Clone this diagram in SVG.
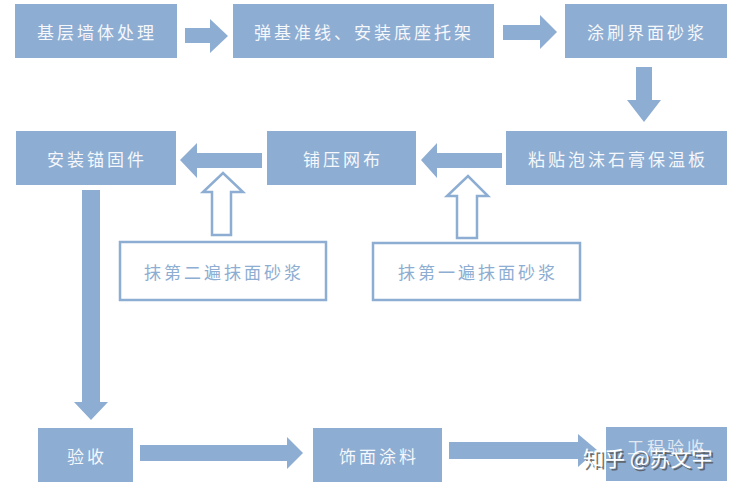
<svg xmlns="http://www.w3.org/2000/svg" width="739" height="490" viewBox="0 0 739 490">
<style>
.box{fill:#8DADD2}
.obox{fill:#fff;stroke:#8DADD2;stroke-width:2.5}
.arr{fill:#8DADD2}
.harr{fill:#fff;stroke:#8DADD2;stroke-width:2.5;stroke-linejoin:miter}
.t{font-family:"Noto Sans CJK SC","Noto Sans",sans-serif;font-size:17px;fill:#F5F7FB;text-anchor:middle;dominant-baseline:central;letter-spacing:3px}
.ot{fill:#8DADD2}
.wm{font-family:"Noto Sans CJK SC","Noto Sans",sans-serif;font-size:21px;text-anchor:start;dominant-baseline:alphabetic}
</style>
<rect width="739" height="490" fill="#fff"/>
<g id="connectors">
<polygon class="arr" points="185,28 210,28 210,19 228,36 210,53 210,43 185,43"/>
<polygon class="arr" points="503,25 540,25 540,15 557,32 540,49 540,40 503,40"/>
<polygon class="arr" points="636,67 652,67 652,100 661,100 644,122 627,100 636,100"/>
<polygon class="arr" points="262,153 197,153 197,143 180,160 197,178 197,168 262,168"/>
<polygon class="arr" points="502,153 437,153 437,143 421,160 437,178 437,168 502,168"/>
<polygon class="harr" points="212,235 212,192 203,192 223,173 243,192 231,192 231,235"/>
<polygon class="harr" points="457,238 457,196 447,196 468,176 488,196 477,196 477,238"/>
<polygon class="arr" points="82,190 100,190 100,402 108,402 91,420 74,402 82,402"/>
<polygon class="arr" points="140,445 287,445 287,437 303,453 287,469 287,461 140,461"/>
<polygon class="arr" points="449,442 578,442 578,434 597,450 578,467 578,459 449,459"/>
</g>
<g id="n1"><rect class="box" x="15" y="4" width="162" height="54"/><text class="t" x="97" y="31">基层墙体处理</text></g>
<g id="n2"><rect class="box" x="233" y="4" width="261" height="54"/><text class="t" x="364" y="31">弹基准线、安装底座托架</text></g>
<g id="n3"><rect class="box" x="565" y="4" width="162" height="54"/><text class="t" x="647" y="31">涂刷界面砂浆</text></g>
<g id="n4"><rect class="box" x="506" y="131" width="221" height="54"/><text class="t" x="618" y="158">粘贴泡沫石膏保温板</text></g>
<g id="n5"><rect class="box" x="267" y="131" width="149" height="54"/><text class="t" x="343" y="158">铺压网布</text></g>
<g id="n6"><rect class="box" x="16" y="131" width="160" height="54"/><text class="t" x="97" y="158">安装锚固件</text></g>
<g id="n7"><rect class="obox" x="120" y="242" width="206" height="58"/><text class="t ot" x="224" y="271">抹第二遍抹面砂浆</text></g>
<g id="n8"><rect class="obox" x="373" y="243" width="207" height="57"/><text class="t ot" x="478" y="271">抹第一遍抹面砂浆</text></g>
<g id="n9"><rect class="box" x="38" y="428" width="95" height="54"/><text class="t" x="87" y="455">验收</text></g>
<g id="n10"><rect class="box" x="313" y="428" width="129" height="54"/><text class="t" x="379" y="455">饰面涂料</text></g>
<g id="n11"><rect class="box" x="606" y="427" width="121" height="54"/><text class="t" x="667" y="446" style="opacity:0.8">工程验收</text></g>
<g id="watermark">
<text class="wm" x="585" y="468" fill="#555" opacity="0.8">知乎 @苏文宇</text>
<text class="wm" x="583" y="466" fill="#fff">知乎 @苏文宇</text>
</g>
</svg>
